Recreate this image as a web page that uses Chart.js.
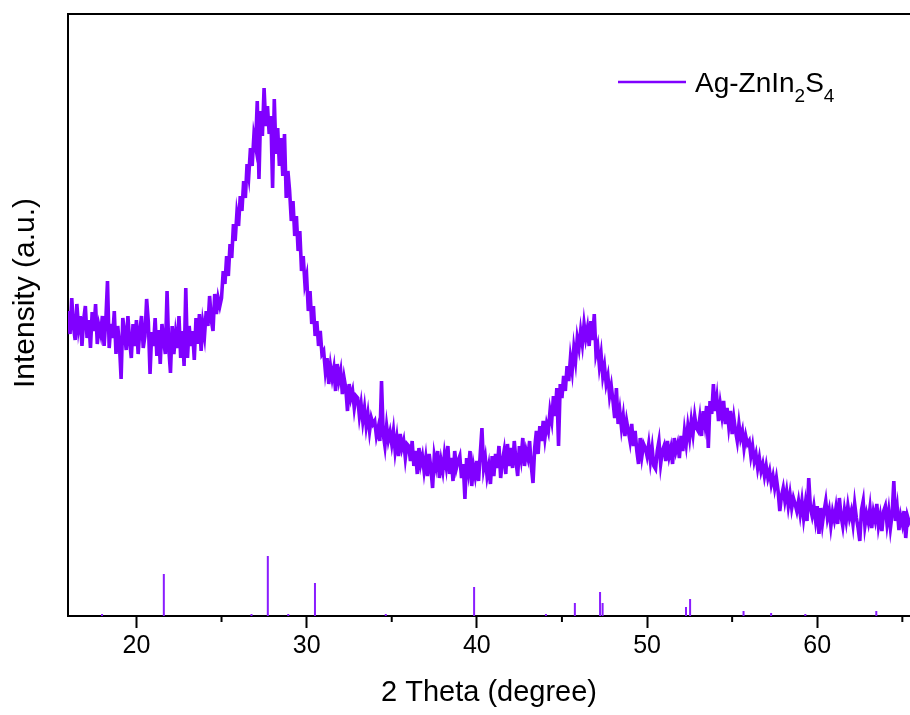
<!DOCTYPE html>
<html>
<head>
<meta charset="utf-8">
<script src="https://cdn.jsdelivr.net/npm/chart.js@4.4.0/dist/chart.umd.min.js"></script>
<style>
  html, body { margin: 0; padding: 0; background: #fff; }
</style>
</head>
<body>
<canvas id="xrd" width="910" height="715"></canvas>
<script>
// === Datos del difractograma ===
const thetaStart = 16.0;
const thetaStep = 0.1;
const intensidad = [
  305, 282, 318, 290, 276, 312, 288, 300, 270, 296,   // 16
  310, 278, 296, 268, 304, 285, 312, 272, 290, 282,   // 17
  300, 270, 295, 335, 268, 292, 278, 305, 262, 290,   // 18
  272, 237, 298, 284, 266, 300, 275, 258, 292, 270,   // 19
  296, 262, 285, 300, 268, 280, 317, 294, 242, 284,   // 20
  270, 298, 260, 286, 252, 292, 275, 262, 325, 268,   // 21
  243, 290, 262, 282, 268, 300, 258, 285, 250, 328,   // 22
  258, 290, 270, 285, 256, 298, 272, 302, 265, 292,   // 23
  280, 305, 290, 320, 296, 285, 322, 302, 318, 310,   // 24
  318, 345, 332, 360, 340, 372, 358, 392, 375, 402,   // 25
  390, 420, 405, 435, 418, 452, 440, 468, 450, 480,   // 26
  470, 515, 437, 505, 480, 528, 490, 510, 482, 500,   // 27
  428, 517, 462, 488, 450, 478, 440, 482, 418, 445,   // 28
  425, 395, 415, 380, 400, 365, 385, 345, 360, 332,   // 29
  340, 305, 325, 292, 310, 280, 295, 270, 285, 262,   // 30
  265, 245, 258, 232, 250, 238, 248, 225, 252, 236,   // 31
  245, 222, 238, 228, 205, 232, 218, 225, 208, 220,   // 32
  218, 200, 212, 195, 208, 190, 202, 185, 198, 192,   // 33
  195, 180, 188, 175, 235, 182, 170, 190, 176, 184,   // 34
  172, 185, 165, 178, 160, 182, 168, 175, 158, 172,   // 35
  170, 155, 175, 150, 165, 142, 168, 152, 160, 145,   // 36
  158, 140, 162, 148, 128, 160, 150, 165, 138, 155,   // 37
  145, 162, 150, 170, 142, 158, 135, 165, 148, 155,   // 38
  160, 138, 152, 117, 158, 145, 165, 130, 150, 140,   // 39
  155, 135, 162, 188, 148, 158, 140, 150, 132, 160,   // 40
  140, 162, 148, 170, 138, 155, 165, 142, 172, 150,   // 41
  168, 148, 175, 155, 140, 170, 158, 178, 150, 165,   // 42
  158, 175, 150, 133, 168, 185, 162, 190, 175, 195,   // 43
  178, 192, 185, 205, 195, 220, 200, 228, 170, 232,   // 44
  218, 240, 225, 250, 235, 258, 245, 268, 255, 278,   // 45
  268, 285, 272, 292, 278, 288, 270, 295, 276, 302,   // 46
  262, 270, 250, 262, 240, 250, 232, 240, 220, 230,   // 47
  215, 198, 228, 192, 205, 188, 200, 180, 195, 185,   // 48
  175, 192, 170, 185, 165, 152, 178, 160, 172, 168,   // 49
  160, 172, 155, 168, 150, 147, 165, 175, 152, 165,   // 50
  170, 155, 175, 160, 168, 152, 178, 165, 172, 158,   // 51
  180, 165, 185, 172, 190, 178, 195, 182, 200, 188,   // 52
  185, 198, 180, 205, 192, 210, 168, 215, 202, 232,   // 53
  205, 218, 195, 212, 200, 215, 192, 208, 190, 205,   // 54
  182, 198, 185, 175, 192, 178, 185, 168, 180, 172,   // 55
  175, 160, 170, 155, 162, 148, 158, 145, 152, 140,   // 56
  150, 138, 145, 132, 140, 128, 138, 125, 105, 120,   // 57
  128, 115, 125, 110, 122, 108, 118, 112, 105, 115,   // 58
  102, 115, 98, 112, 95, 138, 108, 100, 110, 96,      // 59
  110, 82, 108, 92, 105, 115, 98, 106, 90, 104,       // 60
  96, 108, 92, 118, 100, 90, 106, 95, 110, 98,        // 61
  105, 92, 112, 98, 88, 75, 106, 115, 90, 102,        // 62
  94, 108, 88, 104, 96, 112, 90, 100, 85, 105,        // 63
  110, 92, 105, 88, 102, 135, 95, 108, 86, 100,       // 64
  92, 105, 78, 100, 94, 98                            // 65
];

// Patrón de referencia (líneas verticales)
const refPos = [17.98, 21.61, 26.76, 27.72, 28.92, 30.49, 34.65, 39.84, 44.06, 45.76, 47.24, 47.39, 52.29, 52.53, 55.67, 57.29, 59.30, 63.47];
const refAltura = [2, 42, 2, 60, 2, 33, 2, 29, 2, 13, 24, 13, 9, 17, 5, 3, 2, 5];

const ticksMayores = [20, 30, 40, 50, 60];
const ticksMenores = [25, 35, 45, 55, 65];
const serieNombre = 'Ag-ZnIn2S4';
const colorSerie = '#8000ff';

// === Armar puntos ===
const puntosCurva = intensidad.map((v, i) => ({ x: +(thetaStart + i * thetaStep).toFixed(2), y: v }));
const puntosRef = [];
refPos.forEach((p, i) => {
  puntosRef.push({ x: p, y: 0 }, { x: p, y: refAltura[i] }, { x: p, y: null });
});

const FUENTE = '"Liberation Sans", Arial, sans-serif';

// === Plugin: marco superior, ticks menores, leyenda y título Y ===
const extras = {
  id: 'extras',
  afterDraw(chart) {
    const ctx = chart.ctx;
    const area = chart.chartArea;
    const xs = chart.scales.x;
    ctx.save();

    // borde superior
    ctx.strokeStyle = '#000';
    ctx.lineWidth = 2;
    ctx.beginPath();
    ctx.moveTo(area.left - 1, area.top);
    ctx.lineTo(area.right, area.top);
    ctx.stroke();

    // ticks menores
    ticksMenores.forEach(v => {
      const px = xs.getPixelForValue(v);
      if (px < area.left || px > area.right) return;
      ctx.beginPath();
      ctx.moveTo(px, area.bottom);
      ctx.lineTo(px, area.bottom + 6);
      ctx.stroke();
    });

    // leyenda con subíndices
    ctx.strokeStyle = colorSerie;
    ctx.lineWidth = 2.5;
    ctx.beginPath();
    ctx.moveTo(618, 82);
    ctx.lineTo(686, 82);
    ctx.stroke();

    ctx.fillStyle = '#000';
    ctx.textBaseline = 'alphabetic';
    let x = 695;
    serieNombre.split(/(\d+)/).forEach(parte => {
      if (!parte) return;
      const sub = /^\d+$/.test(parte);
      ctx.font = (sub ? '19px ' : '28px ') + FUENTE;
      ctx.fillText(parte, x, sub ? 102 : 92);
      x += ctx.measureText(parte).width;
    });

    // título eje Y
    ctx.translate(26, 293);
    ctx.rotate(-Math.PI / 2);
    ctx.font = '30px ' + FUENTE;
    ctx.textAlign = 'center';
    ctx.textBaseline = 'middle';
    ctx.fillText('Intensity (a.u.)', 0, 0);
    ctx.restore();
  }
};

new Chart(document.getElementById('xrd'), {
  type: 'line',
  data: {
    datasets: [
      {
        label: serieNombre,
        data: puntosCurva,
        borderColor: colorSerie,
        borderWidth: 3.6,
        borderJoinStyle: 'miter',
        pointRadius: 0,
        tension: 0
      },
      {
        label: 'ref',
        data: puntosRef,
        borderColor: '#8a1cff',
        borderWidth: 2,
        pointRadius: 0,
        spanGaps: false
      }
    ]
  },
  options: {
    responsive: false,
    devicePixelRatio: 1,
    animation: false,
    layout: { padding: { top: 14, right: 0, left: 0, bottom: 0 } },
    plugins: { legend: { display: false }, tooltip: { enabled: false } },
    scales: {
      x: {
        type: 'linear',
        min: 15.98,
        max: 65.45,
        afterFit: s => { s.height = 99; },
        afterBuildTicks: s => { s.ticks = ticksMayores.map(v => ({ value: v })); },
        border: { display: true, color: '#000', width: 2 },
        grid: { drawOnChartArea: false, drawTicks: true, tickLength: 12, tickWidth: 2, tickColor: '#000' },
        ticks: { color: '#000', padding: 3, font: { family: FUENTE, size: 25 }, maxRotation: 0 },
        title: {
          display: true,
          text: '2 Theta (degree)',
          color: '#000',
          font: { family: FUENTE, size: 29 },
          padding: { top: 0, bottom: 5 }
        }
      },
      y: {
        min: 0,
        max: 602,
        afterFit: s => { s.width = 68; },
        border: { display: true, color: '#000', width: 2 },
        grid: { drawOnChartArea: false, drawTicks: false },
        ticks: { display: false }
      }
    }
  },
  plugins: [extras]
});
</script>
</body>
</html>
